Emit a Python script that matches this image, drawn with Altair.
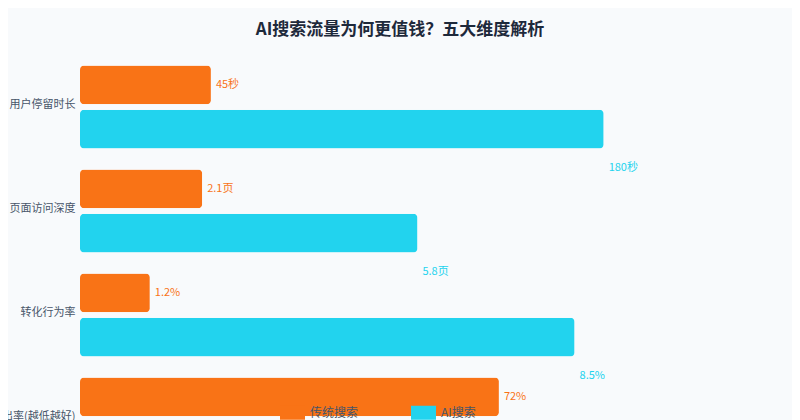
import altair as alt
import pandas as pd

categories = ["用户停留时长", "页面访问深度", "转化行为率", "跳出率(越低越好)"]
series = ["传统搜索", "AI搜索"]
colors = ["#f97316", "#22d3ee"]

traditional_scores = [22.5, 21, 12, 72]
traditional_labels = ["45秒", "2.1页", "1.2%", "72%"]
ai_scores = [90, 58, 85]
ai_labels = ["180秒", "5.8页", "8.5%"]

rows = []
for c, v, l in zip(categories, traditional_scores, traditional_labels):
    rows.append({"维度": c, "类型": series[0], "得分": v, "标签": l})
for c, v, l in zip(categories, ai_scores, ai_labels):
    rows.append({"维度": c, "类型": series[1], "得分": v, "标签": l})
df = pd.DataFrame(rows)

FONT = "Noto Sans CJK SC"

y_enc = alt.Y("维度:N", sort=categories, title=None,
              scale=alt.Scale(range=[0, 416], paddingInner=0.2, paddingOuter=0.1),
              axis=alt.Axis(domain=False, ticks=False, tickSize=0, labelPadding=5,
                            labelOffset=-2,
                            labelFontSize=11, labelColor="#475569", labelFont=FONT,
                            labelLimit=200))
x_enc = alt.X("得分:Q", title=None, axis=None, scale=alt.Scale(domain=[0, 110], nice=False))
yoff = alt.YOffset("类型:N", sort=series, scale=alt.Scale(paddingInner=0.12, paddingOuter=0))

base = alt.Chart(df)

bars = base.mark_bar(cornerRadius=4).encode(
    x=x_enc,
    y=y_enc,
    yOffset=yoff,
    color=alt.Color("类型:N", sort=series,
                    scale=alt.Scale(domain=series, range=colors),
                    legend=alt.Legend(title=None, orient="none", direction="horizontal",
                                      legendX=200, legendY=345,
                                      symbolType="M-1,-0.56H1V0.56H-1Z", symbolSize=625,
                                      symbolStrokeWidth=0, symbolOpacity=1,
                                      labelFontSize=12, labelColor="#475569", labelFont=FONT,
                                      labelOffset=5, columnPadding=52)),
)

trad_text = base.transform_filter(alt.datum["类型"] == series[0]).mark_text(
    align="left", baseline="middle", dx=5, fontSize=11, font=FONT, color=colors[0]
).encode(x=x_enc, y=y_enc, yOffset=yoff, text="标签:N")

ai_text = base.transform_filter(alt.datum["类型"] == series[1]).mark_text(
    align="left", baseline="middle", dx=5, dy=39, fontSize=11, font=FONT, color=colors[1]
).encode(x=x_enc, y=y_enc, yOffset=yoff, text="标签:N")

chart = alt.layer(bars, trad_text, ai_text).properties(
    width=640,
    height=365,
    autosize=alt.AutoSizeParams(type="none"),
    padding={"left": 72, "right": 72, "top": 47, "bottom": 0},
    background="#f8fafc",
    title=alt.TitleParams("AI搜索流量为何更值钱？五大维度解析", anchor="middle",
                          fontSize=17, fontWeight="bold", color="#1e293b", font=FONT,
                          offset=16),
).configure_view(stroke=None)

chart.save("out.html", embed_options={"renderer": "svg", "actions": False})
